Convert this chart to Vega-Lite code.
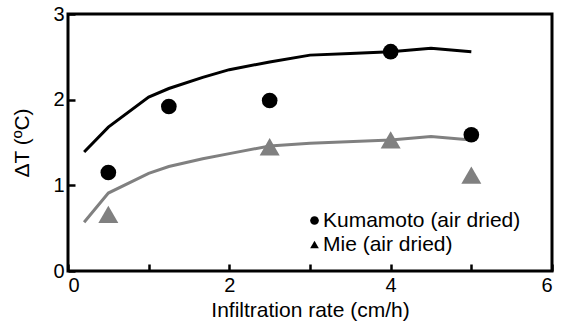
{
  "$schema": "https://vega.github.io/schema/vega-lite/v6.json",
  "width": 484,
  "height": 257,
  "autosize": {"type": "none"},
  "padding": {"left": 68, "top": 14, "right": 9, "bottom": 55},
  "config": {
    "font": "Liberation Sans",
    "view": {"stroke": "black", "strokeWidth": 3, "fill": null},
    "axis": {
      "grid": false,
      "domain": false,
      "zindex": 1,
      "labelColor": "black",
      "titleColor": "black",
      "labelFontSize": 20,
      "titleFontSize": 21,
      "titleFontWeight": "normal"
    },
    "legend": {
      "title": null,
      "orient": "none",
      "legendX": 236,
      "legendY": 196,
      "padding": 0,
      "labelFontSize": 21,
      "labelLimit": 400,
      "labelColor": "black",
      "symbolSize": 75,
      "symbolStrokeWidth": 0,
      "symbolOpacity": 1,
      "rowPadding": 2,
      "labelOffset": -2
    }
  },
  "datasets": {
    "model": [
      {"rate": 0.2, "dT": 1.39, "series": "Kumamoto (air dried)"},
      {"rate": 0.5, "dT": 1.68, "series": "Kumamoto (air dried)"},
      {"rate": 1.0, "dT": 2.03, "series": "Kumamoto (air dried)"},
      {"rate": 1.25, "dT": 2.13, "series": "Kumamoto (air dried)"},
      {"rate": 1.67, "dT": 2.26, "series": "Kumamoto (air dried)"},
      {"rate": 2.0, "dT": 2.35, "series": "Kumamoto (air dried)"},
      {"rate": 2.5, "dT": 2.44, "series": "Kumamoto (air dried)"},
      {"rate": 3.0, "dT": 2.52, "series": "Kumamoto (air dried)"},
      {"rate": 3.5, "dT": 2.54, "series": "Kumamoto (air dried)"},
      {"rate": 4.0, "dT": 2.56, "series": "Kumamoto (air dried)"},
      {"rate": 4.5, "dT": 2.60, "series": "Kumamoto (air dried)"},
      {"rate": 5.0, "dT": 2.56, "series": "Kumamoto (air dried)"},
      {"rate": 0.2, "dT": 0.57, "series": "Mie (air dried)"},
      {"rate": 0.5, "dT": 0.91, "series": "Mie (air dried)"},
      {"rate": 1.0, "dT": 1.14, "series": "Mie (air dried)"},
      {"rate": 1.25, "dT": 1.22, "series": "Mie (air dried)"},
      {"rate": 1.67, "dT": 1.31, "series": "Mie (air dried)"},
      {"rate": 2.0, "dT": 1.37, "series": "Mie (air dried)"},
      {"rate": 2.5, "dT": 1.46, "series": "Mie (air dried)"},
      {"rate": 3.0, "dT": 1.49, "series": "Mie (air dried)"},
      {"rate": 4.0, "dT": 1.53, "series": "Mie (air dried)"},
      {"rate": 4.5, "dT": 1.57, "series": "Mie (air dried)"},
      {"rate": 5.0, "dT": 1.53, "series": "Mie (air dried)"}
    ],
    "obs": [
      {"rate": 0.5, "dT": 1.15, "series": "Kumamoto (air dried)"},
      {"rate": 1.25, "dT": 1.92, "series": "Kumamoto (air dried)"},
      {"rate": 2.5, "dT": 1.99, "series": "Kumamoto (air dried)"},
      {"rate": 4.0, "dT": 2.56, "series": "Kumamoto (air dried)"},
      {"rate": 5.0, "dT": 1.59, "series": "Kumamoto (air dried)"},
      {"rate": 0.5, "dT": 0.66, "series": "Mie (air dried)"},
      {"rate": 2.5, "dT": 1.45, "series": "Mie (air dried)"},
      {"rate": 4.0, "dT": 1.53, "series": "Mie (air dried)"},
      {"rate": 5.0, "dT": 1.12, "series": "Mie (air dried)"}
    ]
  },
  "encoding": {
    "x": {
      "field": "rate",
      "type": "quantitative",
      "scale": {"domain": [0, 6], "nice": false},
      "axis": {
        "title": "Infiltration rate (cm/h)",
        "values": [0, 1, 2, 3, 4, 5, 6],
        "labelExpr": "datum.value % 2 === 0 ? datum.label : ''",
        "ticks": true,
        "tickColor": "black",
        "tickOpacity": 1,
        "tickWidth": 2.5,
        "tickSize": 7,
        "offset": -7,
        "labelPadding": 4,
        "titlePadding": 4
      }
    },
    "y": {
      "field": "dT",
      "type": "quantitative",
      "scale": {"domain": [0, 3], "nice": false},
      "axis": {
        "title": "ΔT (ºC)",
        "values": [0, 1, 2, 3],
        "ticks": true,
        "tickColor": "black",
        "tickOpacity": 1,
        "tickWidth": 2.5,
        "tickSize": 7,
        "offset": -7,
        "labelPadding": 4,
        "titlePadding": 20
      }
    }
  },
  "layer": [
    {
      "data": {"name": "model"},
      "mark": {"type": "line", "strokeWidth": 3},
      "encoding": {
        "detail": {"field": "series", "type": "nominal"},
        "color": {
          "condition": {"test": "datum.series === 'Mie (air dried)'", "value": "#808080"},
          "value": "black"
        }
      }
    },
    {
      "data": {"name": "obs"},
      "mark": {"type": "point", "filled": true, "opacity": 1},
      "encoding": {
        "color": {
          "condition": {"test": "datum.series === 'Mie (air dried)'", "value": "#808080"},
          "value": "black"
        },
        "size": {
          "condition": {"test": "datum.series === 'Mie (air dried)'", "value": 400},
          "value": 245
        },
        "shape": {
          "field": "series",
          "type": "nominal",
          "scale": {"domain": ["Kumamoto (air dried)", "Mie (air dried)"], "range": ["circle", "triangle-up"]},
          "legend": {
            "symbolFillColor": "black",
            "encode": {"symbols": {"update": {"fill": {"value": "black"}, "stroke": {"value": "black"}, "opacity": {"value": 1}, "size": {"value": 75}}}}
          }
        }
      }
    }
  ]
}
